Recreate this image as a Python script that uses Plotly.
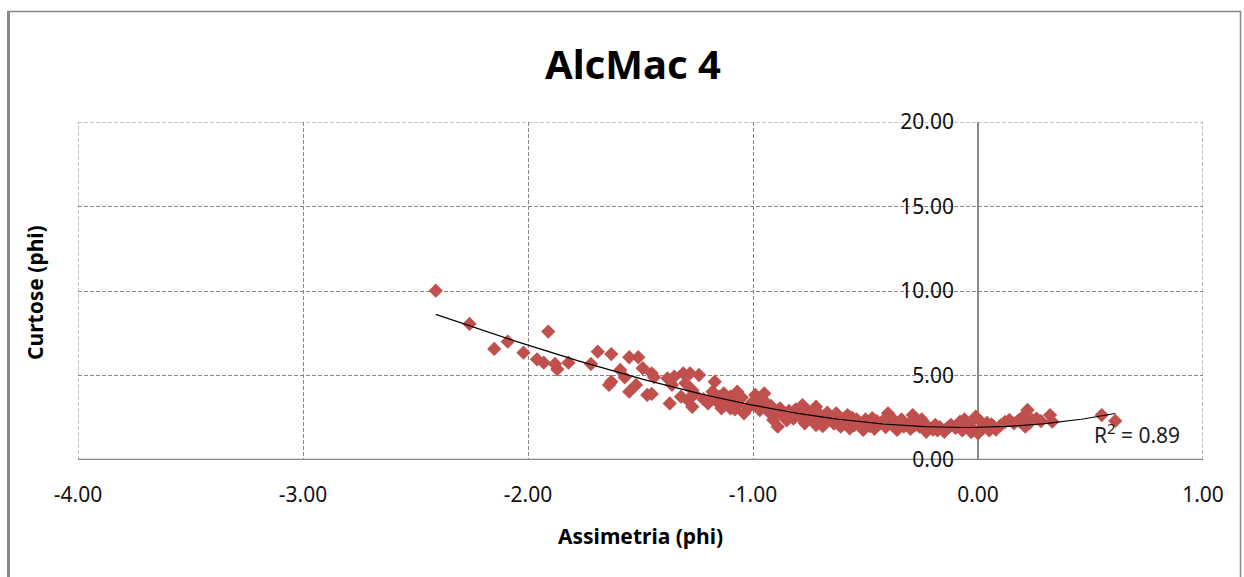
import numpy as np
import plotly.graph_objects as go

# Skewness (phi) vs kurtosis (phi) per sample
assimetria = [
    -2.41, -2.26, -2.15, -2.09, -2.02, -1.91, -1.96, -1.93, -1.88, -1.87,
    -1.82, -1.72, -1.69, -1.63, -1.55, -1.51, -1.49, -1.59, -1.63, -1.64,
    -1.57, -1.52, -1.55, -1.47, -1.45, -1.45, -1.44, -1.38, -1.35, -1.31,
    -1.28, -1.24, -1.36, -1.30, -1.27, -1.37, -1.32, -1.29, -1.27, -1.17,
    -1.18, -1.13, -1.19, -1.14, -1.10, -1.10, -1.07, -1.07, -1.04, -0.99,
    -0.95, -0.94, -0.97, -0.91, -0.88, -0.86, -0.89, -0.78, -0.72, -0.75,
    -0.77, -0.72, -0.70, -0.63, -0.58, -0.61, -0.57, -0.53, -0.51, -0.51,
    -0.47, -0.44, -0.40, -0.39, -0.36, -0.33, -0.29, -0.27, -0.26, -0.23,
    -0.19, -0.15, -0.12, -0.08, -0.05, -0.01, 0.00, 0.03, 0.07, 0.14,
    0.16, 0.20, 0.22, 0.24, 0.21, 0.32, 0.33, 0.55, 0.61,
    -1.20, -1.16, -1.12, -1.06, -1.02, -1.00, -0.96, -0.93, -0.90, -0.84,
    -0.82, -0.80, -0.76, -0.74, -0.68, -0.66, -0.64, -0.60, -0.56, -0.55,
    -0.48, -0.46, -0.42, -0.38, -0.35, -0.31, -0.30, -0.25, -0.22, -0.20,
    -0.17, -0.14, -0.10, -0.07, -0.04, -0.02, 0.01, 0.02, 0.05, 0.06,
    0.18, 0.23, 0.26,
    -1.26, -1.22, -1.15, -1.11, -1.08, -1.05, -1.01, -0.98, -0.92, -0.87,
    -0.85, -0.81, -0.79, -0.73, -0.71, -0.69, -0.67, -0.62, -0.59, -0.54,
    -0.50, -0.45, -0.41, -0.37, -0.34, -0.28, -0.24, -0.18, -0.13, -0.09,
    -0.06, -0.03, 0.04, 0.08, 0.10, 0.12, 0.28,
]
curtose = [
    10.02, 8.05, 6.57, 7.00, 6.35, 7.60, 5.96, 5.76, 5.68, 5.37,
    5.76, 5.68, 6.41, 6.27, 6.08, 6.08, 5.43, 5.33, 4.63, 4.44,
    4.89, 4.44, 4.04, 3.85, 3.91, 5.13, 4.90, 4.83, 4.93, 5.13,
    5.13, 5.03, 4.44, 4.54, 4.14, 3.35, 3.75, 3.55, 3.15, 4.63,
    4.04, 3.94, 3.65, 3.06, 3.06, 3.75, 4.04, 3.25, 2.76, 3.85,
    3.94, 3.35, 2.96, 2.37, 3.06, 2.56, 1.97, 3.25, 3.15, 2.66,
    2.17, 2.07, 2.66, 2.76, 2.66, 1.97, 1.87, 2.27, 2.17, 1.78,
    2.47, 2.17, 2.76, 2.17, 1.78, 1.97, 2.66, 2.27, 1.97, 1.67,
    2.07, 1.67, 2.07, 2.27, 1.97, 2.56, 1.58, 2.07, 1.97, 2.37,
    2.17, 2.56, 2.96, 2.37, 1.97, 2.66, 2.27, 2.66, 2.31,
    3.35, 3.45, 3.30, 3.55, 3.10, 3.45, 3.60, 2.85, 2.75, 2.90,
    2.45, 2.70, 2.95, 2.45, 2.35, 2.55, 2.15, 2.40, 2.50, 2.05,
    2.00, 1.85, 2.35, 2.45, 2.20, 2.10, 1.85, 2.40, 1.95, 1.80,
    1.95, 1.85, 1.90, 1.75, 2.15, 1.80, 2.30, 1.85, 1.75, 2.10,
    2.35, 2.20, 2.45,
    3.90, 3.60, 3.75, 3.50, 3.00, 3.70, 3.30, 3.15, 3.20, 2.80,
    2.35, 3.00, 2.55, 2.80, 2.30, 2.00, 2.80, 2.50, 2.25, 2.40,
    2.40, 2.30, 1.95, 2.05, 2.40, 2.05, 2.15, 1.75, 1.95, 2.05,
    2.40, 1.65, 2.20, 1.80, 2.05, 2.25, 2.30,
]

# Polynomial (order 3) trendline coefficients, highest power first
trend_coef = [0.2024, 1.730, 0.2176, 1.93]
trend_r2 = "0.89"

x_ticks = [-4, -3, -2, -1, 0, 1]
x_tick_labels = ["-4.00", "-3.00", "-2.00", "-1.00", "0.00", "1.00"]
y_ticks = [0, 5, 10, 15, 20]
y_tick_labels = ["0.00", "5.00", "10.00", "15.00", "20.00"]

RED = "#C0504D"
GRID = "#878787"
FONT = "Noto Sans"
DASH = "4px,2px"

x_fit = np.linspace(min(assimetria), max(assimetria), 200)
y_fit = np.polyval(trend_coef, x_fit)

fig = go.Figure()
fig.add_trace(go.Scatter(
    x=assimetria, y=curtose, mode="markers",
    marker=dict(symbol="diamond", size=11, color=RED, line=dict(width=0)),
    showlegend=False, hoverinfo="x+y",
))
fig.add_trace(go.Scatter(
    x=x_fit, y=y_fit, mode="lines",
    line=dict(color="black", width=1.2),
    showlegend=False, hoverinfo="skip",
))

fig.update_layout(
    width=1244, height=577,
    margin=dict(l=78, r=41, t=122, b=117),
    paper_bgcolor="white", plot_bgcolor="white",
    font=dict(family=FONT, color="#000000"),
    xaxis=dict(
        range=[-4, 1], tickvals=x_ticks, ticktext=x_tick_labels,
        showgrid=True, gridcolor=GRID, gridwidth=1, griddash=DASH,
        zeroline=False, showline=False, ticks="",
        tickfont=dict(size=21, family=FONT, color="#111111"),
        ticklabelstandoff=20,
    ),
    yaxis=dict(
        range=[0, 20], tickvals=y_ticks, ticktext=y_tick_labels,
        anchor="free", position=0.8,
        showgrid=True, gridcolor=GRID, gridwidth=1, griddash=DASH,
        zeroline=False, showline=False, ticks="",
        tickfont=dict(size=21, family=FONT, color="#111111"),
        ticklabelstandoff=24,
    ),
)

# Dashed plot-area border on the top, left and right edges
for x0, x1, y0, y1 in [(-4, 1, 20, 20), (-4, -4, 0, 20), (1, 1, 0, 20)]:
    fig.add_shape(type="line", xref="x", yref="y", x0=x0, x1=x1, y0=y0, y1=y1,
                  line=dict(color=GRID, width=1, dash=DASH), layer="below")

# Solid axis lines through the origin
fig.add_shape(type="line", xref="x", yref="y", x0=-4, x1=1, y0=0, y1=0,
              line=dict(color=GRID, width=2.5), layer="below")
fig.add_shape(type="line", xref="x", yref="y", x0=0, x1=0, y0=0, y1=20,
              line=dict(color=GRID, width=2), layer="below")

# Chart frame
def px_x(p):
    return (p - 78) / 1125

def px_y(p):
    return (460 - p) / 338

fig.add_shape(type="line", xref="paper", yref="paper",
              x0=px_x(8.5), x1=px_x(8.5), y0=px_y(11), y1=px_y(600),
              line=dict(color=GRID, width=3))
fig.add_shape(type="line", xref="paper", yref="paper",
              x0=px_x(7), x1=px_x(1241), y0=px_y(11.5), y1=px_y(11.5),
              line=dict(color=GRID, width=1.5))
fig.add_shape(type="line", xref="paper", yref="paper",
              x0=px_x(1240.5), x1=px_x(1240.5), y0=px_y(11), y1=px_y(600),
              line=dict(color=GRID, width=1.5))

fig.add_annotation(text="<b>AlcMac 4</b>", xref="paper", yref="paper",
                   x=px_x(633), y=px_y(63), xanchor="center", yanchor="middle",
                   showarrow=False,
                   font=dict(size=40, family=FONT, color="black"))
fig.add_annotation(text="<b>Assimetria (phi)</b>", xref="paper", yref="paper",
                   x=px_x(640), y=px_y(536), xanchor="center", yanchor="middle",
                   showarrow=False,
                   font=dict(size=21, family=FONT, color="black"))
fig.add_annotation(text="<b>Curtose (phi)</b>", xref="paper", yref="paper",
                   x=px_x(35), y=px_y(293), xanchor="center", yanchor="middle",
                   showarrow=False, textangle=-90,
                   font=dict(size=21, family=FONT, color="black"))
fig.add_annotation(text="R<sup>2</sup> = " + trend_r2, xref="paper", yref="paper",
                   x=px_x(1092), y=px_y(433), xanchor="left", yanchor="middle",
                   showarrow=False,
                   font=dict(size=21, family=FONT, color="#222222"))

fig.write_html("out.html")
